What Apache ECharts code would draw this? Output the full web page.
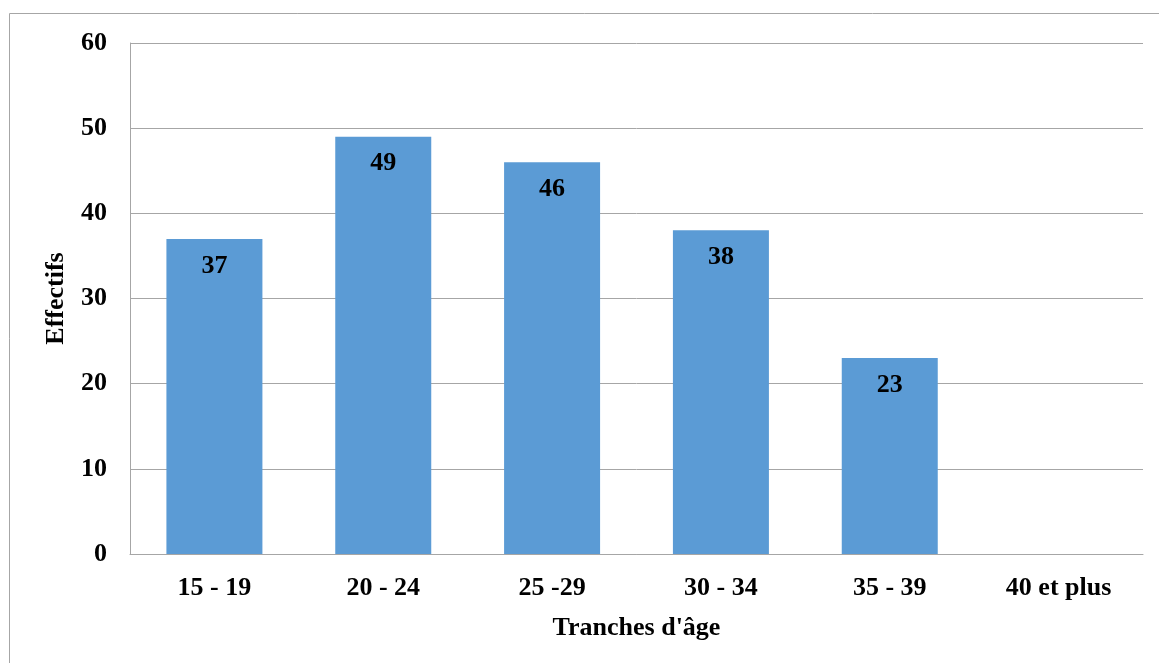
<!DOCTYPE html>
<html>
<head>
<meta charset="utf-8">
<script src="https://cdn.jsdelivr.net/npm/echarts@6/dist/echarts.min.js"></script>
<style>
  html, body { margin: 0; padding: 0; background: #fff; }
  #chart { width: 1159px; height: 663px; }
</style>
</head>
<body>
<div id="chart"></div>
<script>
// Age groups and their headcounts
const categories = ['15 - 19', '20 - 24', '25 -29', '30 - 34', '35 - 39', '40 et plus'];
const effectifs = [37, 49, 46, 38, 23, null];
const yTicks = { min: 0, max: 60, interval: 10 };

const serif = '"Liberation Serif", "Times New Roman", serif';
const textStyle = { fontFamily: serif, fontWeight: 'bold', fontSize: 26, color: '#000' };
const chart = echarts.init(document.getElementById('chart'));

chart.setOption({
  backgroundColor: '#fff',
  animation: false,
  graphic: [{
    type: 'rect',
    shape: { x: 9.5, y: 13.5, width: 1160, height: 660 },
    style: { fill: 'none', stroke: '#a6a6a6', lineWidth: 1 }
  }],
  grid: { left: 130, right: 16, top: 43, bottom: 109 },
  xAxis: {
    type: 'category',
    data: categories,
    name: "Tranches d'âge",
    nameLocation: 'middle',
    nameGap: 61,
    nameTextStyle: textStyle,
    axisLine: { show: true, lineStyle: { color: '#a6a6a6', width: 1 } },
    axisTick: { show: false },
    axisLabel: Object.assign({ margin: 21 }, textStyle)
  },
  yAxis: {
    type: 'value',
    min: yTicks.min,
    max: yTicks.max,
    interval: yTicks.interval,
    name: 'Effectifs',
    nameLocation: 'middle',
    nameGap: 61,
    nameTextStyle: textStyle,
    axisLine: { show: true, lineStyle: { color: '#a6a6a6', width: 1 } },
    axisTick: { show: false },
    splitLine: { show: true, lineStyle: { color: '#a6a6a6', width: 1 } },
    axisLabel: Object.assign({ margin: 23, padding: [3, 0, 0, 0] }, textStyle)
  },
  series: [{
    type: 'bar',
    data: effectifs,
    barWidth: 96,
    itemStyle: { color: '#5b9bd5' },
    label: Object.assign({ show: true, position: 'insideTop', distance: 14 }, textStyle)
  }]
});
</script>
</body>
</html>
